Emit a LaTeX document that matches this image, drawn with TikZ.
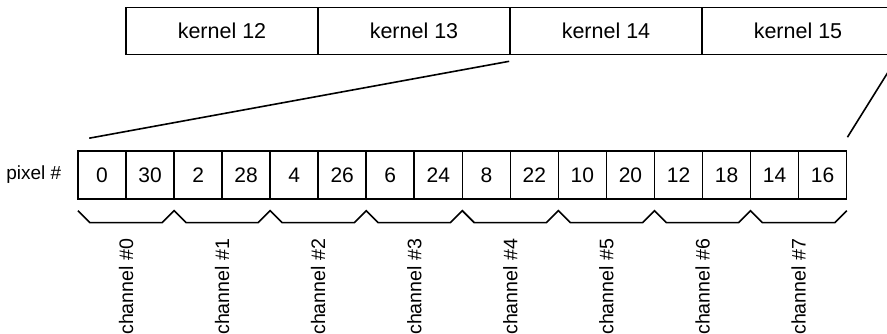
\documentclass[tikz,border=0pt]{standalone}
\usepackage{fontspec}
\setmainfont{Liberation Sans}
\usetikzlibrary{calc}
\begin{document}
\begin{tikzpicture}[x=1pt,y=-1pt,
  line width=1.6pt,
  kbox/.style={draw,line width=1.6pt,minimum width=192pt,minimum height=47pt,inner sep=0pt,font=\fontsize{21.5}{24}\selectfont},
  pbox/.style={draw,line width=1.6pt,minimum width=48.04pt,minimum height=48pt,inner sep=0pt,font=\fontsize{21}{24}\selectfont},
  lbl/.style={inner sep=0pt,font=\fontsize{19}{22}\selectfont},
  chl/.style={inner sep=0pt,rotate=90,anchor=east,font=\fontsize{19.6}{22}\selectfont}]
\useasboundingbox (0,0) rectangle (887,334);
\clip (0,0) rectangle (887,334);
% kernels
\node[kbox] (k12) at (222,31) {kernel 12};
\node[kbox] (k13) at (414,31) {kernel 13};
\node[kbox] (k14) at (606,31) {kernel 14};
\node[kbox] (k15) at (798,31) {kernel 15};
% pixels
\foreach \v [count=\i from 0] in {0,30,2,28,4,26,6,24,8,22,10,20,12,18,14,16}{
  \node[pbox] (p\i) at ({78+48.04*(\i+0.5)},175) {\v};
}
\node[lbl,anchor=east] (plab) at (62,175) {pixel \#};
% connectors
\coordinate (a1) at ($(k14.south west)+(0,6)$);
\coordinate (a2) at ($(p0.north west)+(12,-12)$);
\coordinate (b1) at ($(k15.south east)+(0,6)$);
\coordinate (b2) at ($(p15.north east)+(0,-13)$);
\draw (a1) -- (a2);
\draw (b1) -- (b2);
% brace
\draw[line join=miter] (78,210.7) -- (90,222.7)
  \foreach \k in {1,...,7}{ -- ({78+96.08*\k-12},222.7) -- ({78+96.08*\k},210.7) -- ({78+96.08*\k+12},222.7) }
  -- (834.7,222.7) -- (846.7,210.7);
% channel labels
\foreach \k in {0,...,7}{
  \node[chl] (c\k) at ({126.04+96.08*\k},238) {channel \#\k};
}
\end{tikzpicture}
\end{document}
